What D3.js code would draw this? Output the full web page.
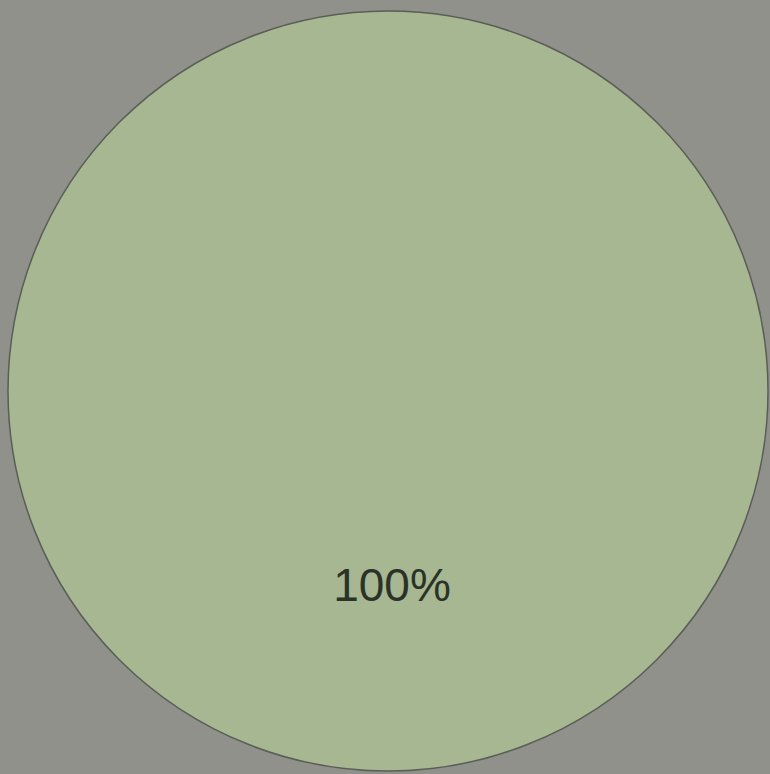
<!DOCTYPE html>
<html>
<head>
<meta charset="utf-8">
<script src="https://cdn.jsdelivr.net/npm/d3@7"></script>
<style>
  html, body { margin: 0; padding: 0; background: #8f918a; }
  svg { display: block; }
</style>
</head>
<body>
<svg id="chart"></svg>
<script>
    // Chart size
    const width = 770;
    const height = 774;

    // Data: a single slice that fills the whole pie
    const labels = ["Share"];
    const values = [100];
    const colors = ["#a6b792"];

    const svg = d3.select("#chart")
        .attr("width", width)
        .attr("height", height);

    const radius = 380;
    const g = svg.append("g")
        .attr("transform", `translate(388,391)`);

    const pie = d3.pie().sort(null).value(d => d.value);
    const data = labels.map((l, i) => ({ label: l, value: values[i], color: colors[i] }));
    const arcs = pie(data);
    const total = d3.sum(values);

    const arc = d3.arc().innerRadius(0).outerRadius(radius);
    const labelArc = d3.arc().innerRadius(radius * 0.51).outerRadius(radius * 0.51);

    // Slices
    g.selectAll("path")
      .data(arcs)
      .join("path")
        .attr("d", arc)
        .attr("fill", d => d.data.color)
        .attr("stroke", "#5b5e57")
        .attr("stroke-width", 1.5);

    // Percent labels
    g.selectAll("text")
      .data(arcs)
      .join("text")
        .attr("transform", d => `translate(${labelArc.centroid(d)})`)
        .attr("text-anchor", "middle")
        .attr("dx", 4)
        .attr("dy", "0.35em")
        .attr("font-family", "Liberation Sans, Arial, sans-serif")
        .attr("font-size", 46)
        .attr("fill", "#2b3227")
        .text(d => `${Math.round(d.data.value / total * 100)}%`);
</script>
</body>
</html>
